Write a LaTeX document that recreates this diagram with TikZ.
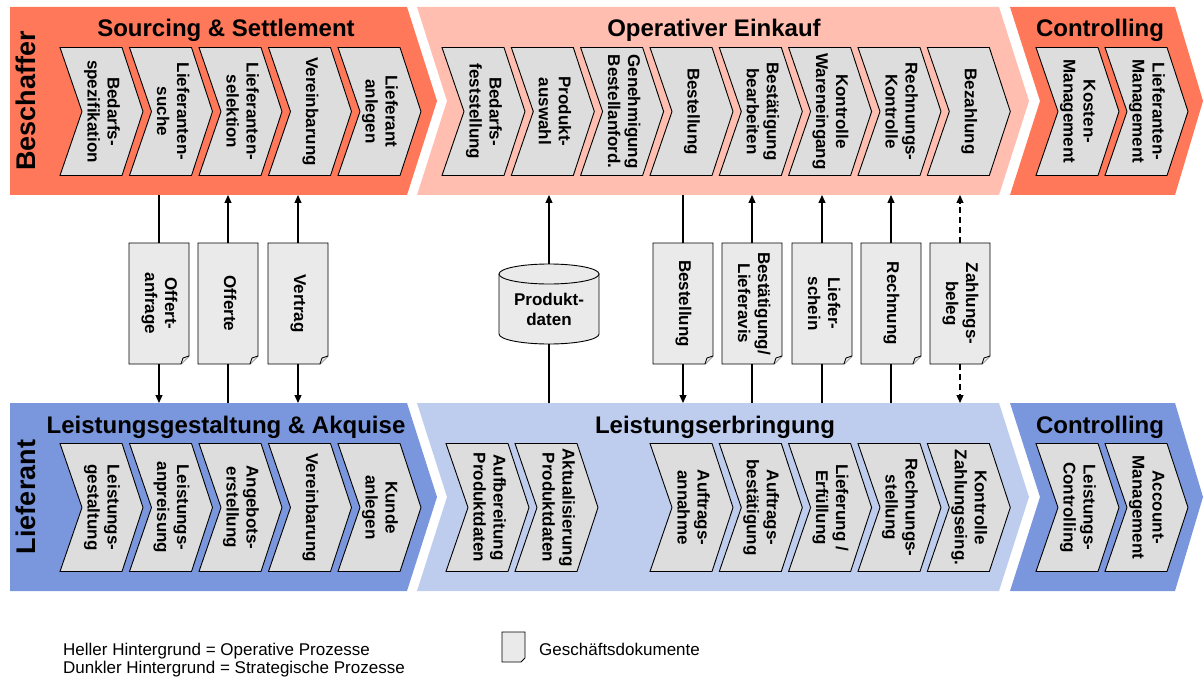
\documentclass[tikz,border=0pt]{standalone}
\usepackage{fontspec}
\setmainfont{Liberation Sans}
\usetikzlibrary{arrows.meta}
\definecolor{dkred}{RGB}{255,120,90}
\definecolor{ltred}{RGB}{255,190,176}
\definecolor{dkblue}{RGB}{122,150,220}
\definecolor{ltblue}{RGB}{190,204,238}
\definecolor{stepgray}{RGB}{221,221,221}
\definecolor{docgray}{RGB}{234,234,234}
\tikzset{
  stepline/.style={draw=black, fill=stepgray, line width=0.9pt},
  stepnode/.style={minimum width=83pt, minimum height=128pt, inner sep=0pt, font=\bfseries\fontsize{17}{20}\selectfont},
  docline/.style={draw=black, fill=docgray, line width=0.9pt},
  docnode/.style={minimum width=60pt, minimum height=121pt, inner sep=0pt, font=\bfseries\fontsize{17}{20}\selectfont},
  title/.style={font=\bfseries\fontsize{24}{28}\selectfont, anchor=base, inner sep=0pt},
  side/.style={font=\bfseries\fontsize{27}{30}\selectfont, rotate=90, inner sep=0pt},
  link/.style={line width=1.2pt, >={Triangle[length=8pt,width=7pt]}},
  legend/.style={font=\fontsize{17}{19}\selectfont, anchor=base west, inner sep=0pt}
}
\newcommand{\vtext}[1]{\rotatebox{-90}{\begin{tabular}{@{}c@{}}#1\end{tabular}}}
\newcommand{\chev}[4]{%
  \draw[stepline] (#2,#3) -- ++(62,0) -- ++(21,64) -- ++(-21,64) -- ++(-62,0) -- ++(22,-64) -- cycle;
  \node[stepnode] (#1) at (#2+41.5,#3+64) {\vtext{#4}};
}
\newcommand{\gdoc}[3]{%
  \draw[docline] (#2-30,243) -- ++(60,0) -- ++(0,113) -- ++(-8,8) -- ++(-52,0) -- cycle;
  \draw[docline] (#2+30,356) -- ++(-6,2) -- ++(-2,6);
  \node[docnode] (#1) at (#2,303.5) {\vtext{#3}};
}
\begin{document}
\begin{tikzpicture}[x=1pt,y=-1pt]
    \useasboundingbox (0,0) rectangle (1204,679);
    \foreach \yo/\dk/\lt in {0/dkred/ltred,396/dkblue/ltblue}{
      \fill[\dk] (10,7+\yo) -- (407,7+\yo) -- (437,101+\yo) -- (407,195+\yo) -- (10,195+\yo) -- cycle;
      \fill[\lt] (417,7+\yo) -- (999,7+\yo) -- (1029,101+\yo) -- (999,195+\yo) -- (417,195+\yo) -- (447,101+\yo) -- cycle;
      \fill[\dk] (1010,7+\yo) -- (1175,7+\yo) -- (1203,101+\yo) -- (1175,195+\yo) -- (1010,195+\yo) -- (1040,101+\yo) -- cycle;
    }
    \node[title] (srcset) at (226,37) {Sourcing \& Settlement};
    \node[title] (opein) at (714,37) {Operativer Einkauf};
    \node[title] (ctrlbes) at (1100,37) {Controlling};
    \node[title] (lgakq) at (226,433) {Leistungsgestaltung \& Akquise};
    \node[title] (lerbr) at (715,433) {Leistungserbringung};
    \node[title] (ctrllief) at (1100,433) {Controlling};
    \node[side] (besch) at (26,101) {Beschaffer};
    \node[side] (lief) at (26,497) {Lieferant};
    \foreach \nm/\x/\txt in {bspez/60/{Bedarfs-\\spezifikation}, lsuche/129.5/{Lieferanten-\\suche},
        lsel/199/{Lieferanten-\\selektion}, verbes/268.5/{Vereinbarung}, lanl/338/{Lieferant\\anlegen},
        bfest/442/{Bedarfs-\\feststellung}, pausw/511.3/{Produkt-\\auswahl}, genbest/580.6/{Genehmigung\\Bestellanford.},
        bestb/650/{Bestellung}, bestbearb/719.3/{Bestätigung\\bearbeiten}, kware/788.6/{Kontrolle\\Wareneingang},
        rkontr/858/{Rechnungs-\\Kontrolle}, bezahl/927.3/{Bezahlung},
        kmgmt/1036/{Kosten-\\Management}, lmgmt/1105/{Lieferanten-\\Management}}
      {\chev{\nm}{\x}{47.5}{\txt}}
    \foreach \nm/\x/\txt in {lgest/60/{Leistungs-\\gestaltung}, lanp/129.5/{Leistungs-\\anpreisung},
        aerst/199/{Angebots-\\erstellung}, verlief/268.5/{Vereinbarung}, kanl/338/{Kunde\\anlegen},
        aufpd/446/{Aufbereitung\\Produktdaten}, aktpd/515/{Aktualisierung\\Produktdaten},
        aann/650/{Auftrags-\\annahme}, abest/719.3/{Auftrags-\\bestätigung}, lerf/788.6/{Lieferung /\\Erfüllung},
        rstell/858/{Rechnungs-\\stellung}, kzahl/927.3/{Kontrolle\\Zahlungseing.},
        lcont/1036/{Leistungs-\\Controlling}, amgmt/1105/{Account-\\Management}}
      {\chev{\nm}{\x}{443.5}{\txt}}
    \foreach \nm/\x/\txt in {offanf/159/{Offert-\\anfrage}, offerte/228/{Offerte}, vertrag/298/{Vertrag},
        bestlg/683/{Bestellung}, bestav/752/{Bestätigung/\\Lieferavis}, liefsch/822/{Liefer-\\schein},
        rechng/891/{Rechnung}, zahlbel/960/{Zahlungs-\\beleg}}
      {\gdoc{\nm}{\x}{\txt}}
    \filldraw[docline] (499,274) -- (499,334) .. controls (499,339.5) and (521.4,344) .. (549,344)
      .. controls (576.6,344) and (599,339.5) .. (599,334) -- (599,274) -- cycle;
    \filldraw[docline] (549,274) ellipse [x radius=50pt, y radius=10pt];
    \node[minimum width=100pt, minimum height=70pt, inner sep=0pt, align=center,
      font=\bfseries\fontsize{17}{20}\selectfont] (pdat) at (549,309) {Produkt-\\daten};
    \coordinate (tb) at (0,195);
    \coordinate (bb) at (0,403);
    \draw[link] (offanf.north) -- (offanf.north |- tb);
    \draw[link,->] (offanf.south) -- (offanf.south |- bb);
    \draw[link,->] (offerte.north) -- (offerte.north |- tb);
    \draw[link] (offerte.south) -- (offerte.south |- bb);
    \draw[link,->] (vertrag.north) -- (vertrag.north |- tb);
    \draw[link,->] (vertrag.south) -- (vertrag.south |- bb);
    \draw[link,->] ([yshift=10pt]pdat.north) -- (pdat.north |- tb);
    \draw[link] (pdat.south) -- (pdat.south |- bb);
    \draw[link] (bestlg.north) -- (bestlg.north |- tb);
    \draw[link,->] (bestlg.south) -- (bestlg.south |- bb);
    \foreach \nm in {bestav,liefsch,rechng}{
      \draw[link,->] (\nm.north) -- (\nm.north |- tb);
      \draw[link] (\nm.south) -- (\nm.south |- bb);
    }
    \draw[link,dash pattern=on 6pt off 4pt,->] (zahlbel.north) -- (zahlbel.north |- tb);
    \draw[link,dash pattern=on 6pt off 4pt,->] (zahlbel.south) -- (zahlbel.south |- bb);
    \draw[docline] (502,632) -- ++(23,0) -- ++(0,26) -- ++(-4,4) -- ++(-19,0) -- cycle;
    \node[legend] (lghell) at (63,655) {Heller Hintergrund = Operative Prozesse};
    \node[legend] (lgdunk) at (63,673) {Dunkler Hintergrund = Strategische Prozesse};
    \node[legend] (lgdoc) at (539,655) {Geschäftsdokumente};
\end{tikzpicture}
\end{document}
